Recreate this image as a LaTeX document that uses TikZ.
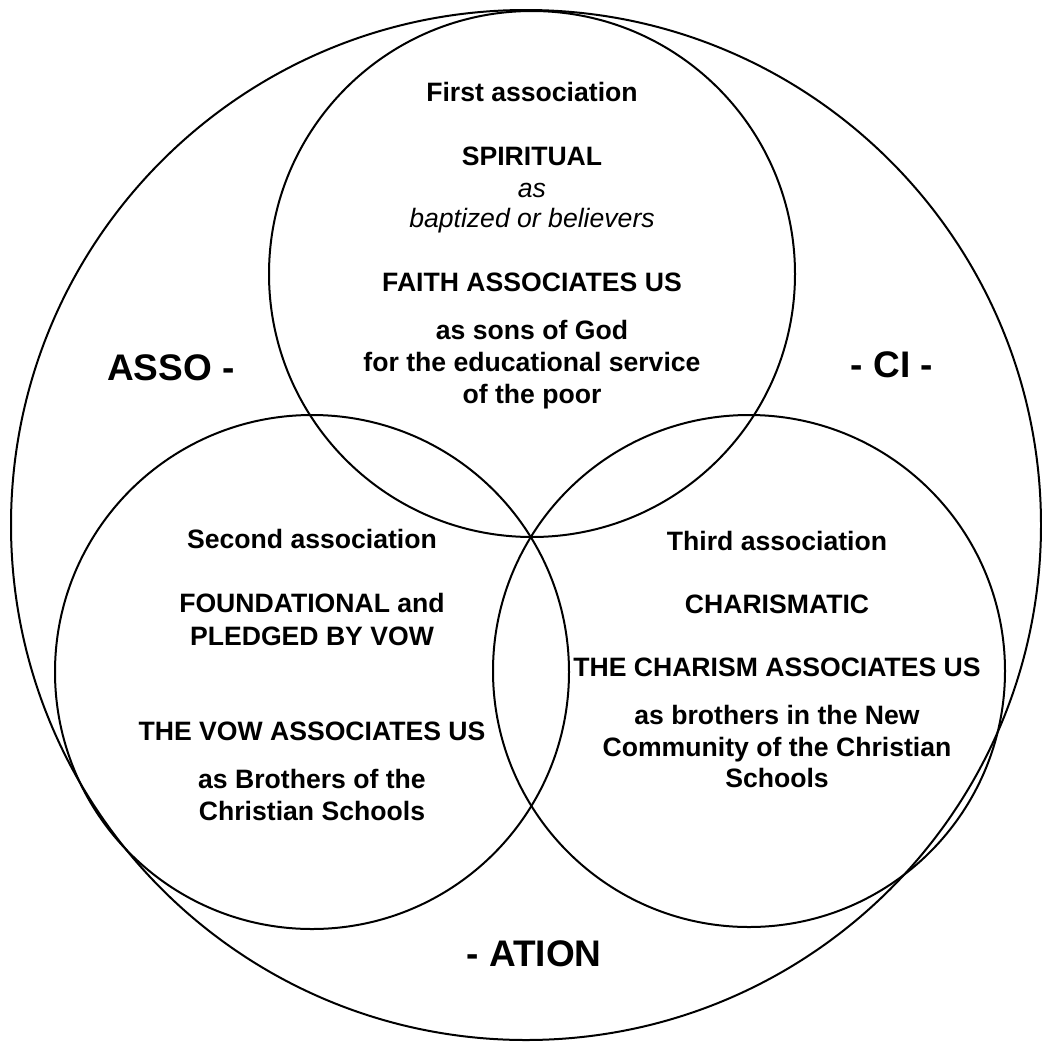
\documentclass[tikz,border=0pt]{standalone}
\usepackage{fontspec}
\setmainfont{Liberation Sans}
\usepackage{xcolor}

\begin{document}
\begin{tikzpicture}[x=1pt,y=-1pt]
\tikzstyle{ring} = [circle, draw=black, line width=2pt, inner sep=0pt];
\tikzstyle{line_b} = [anchor=base, inner sep=0pt,
font=\fontsize{26.6}{32}\selectfont\bfseries];
\tikzstyle{line_i} = [anchor=base, inner sep=0pt,
font=\fontsize{26.6}{32}\selectfont\itshape];
\tikzstyle{syll} = [anchor=base, inner sep=0pt,
font=\fontsize{37}{40}\selectfont\bfseries];
\useasboundingbox (0,0) rectangle (1042,1045);
% circles
\node [ring, minimum size=1030pt] (whole) at (526,525) {};
\node [ring, minimum size=526pt] (first) at (532,274) {};
\node [ring, minimum size=514pt] (second) at (312,672) {};
\node [ring, minimum size=512pt] (third) at (749,671) {};
% first circle
\node [line_b] (firstname) at (532,101) {First association};
\node [line_b] (spiritual) at (532,165) {SPIRITUAL};
\node [line_i] (as) at (532,197) {as};
\node [line_i] (baptized) at (532,227) {baptized or believers};
\node [line_b] (faith) at (532,291) {FAITH ASSOCIATES US};
\node [line_b] (sons) at (532,339) {as sons of God};
\node [line_b] (service) at (532,371.5) {for the educational service};
\node [line_b] (poor) at (532,403) {of the poor};
% second circle
\node [line_b] (secondname) at (312,548) {Second association};
\node [line_b] (foundational) at (312,612.5) {FOUNDATIONAL and};
\node [line_b] (pledged) at (312,645) {PLEDGED BY VOW};
\node [line_b] (vow) at (312,740.5) {THE VOW ASSOCIATES US};
\node [line_b] (brothers) at (312,788) {as Brothers of the};
\node [line_b] (schools) at (312,820) {Christian Schools};
% third circle
\node [line_b] (thirdname) at (777,550.5) {Third association};
\node [line_b] (charismatic) at (777,613) {CHARISMATIC};
\node [line_b] (charism) at (777,676.5) {THE CHARISM ASSOCIATES US};
\node [line_b] (brothersnew) at (777,724) {as brothers in the New};
\node [line_b] (community) at (777,756) {Community of the Christian};
\node [line_b] (schoolsb) at (777,787.5) {Schools};
% word around
\node [syll] (asso) at (171,380) {ASSO -};
\node [syll] (ci) at (892,377) {- CI -};
\node [syll] (ation) at (534,966) {- ATION};
\end{tikzpicture}
\end{document}
